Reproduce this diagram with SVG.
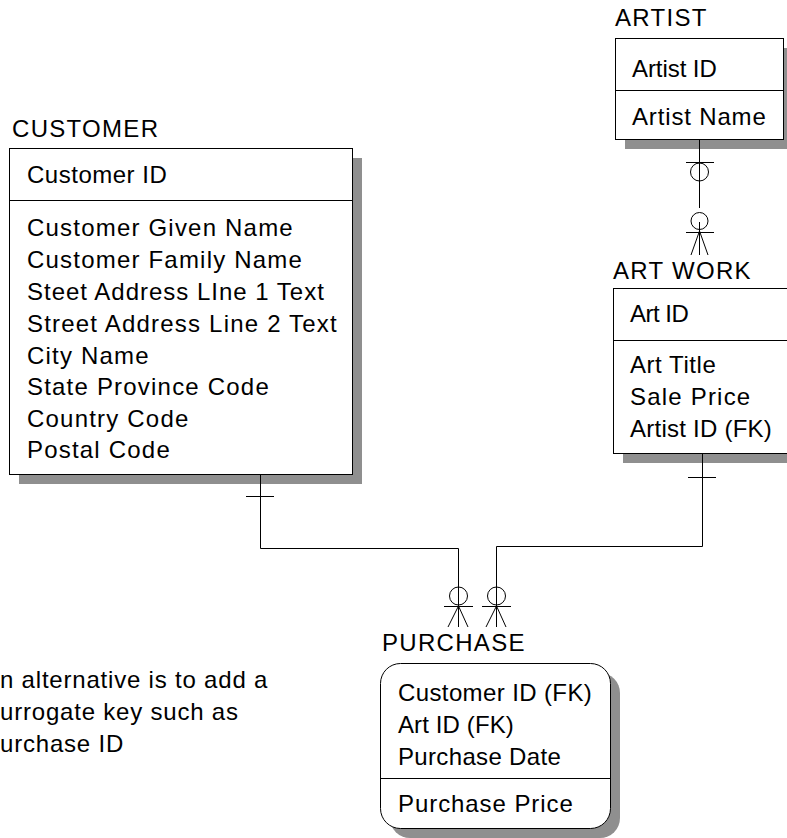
<svg xmlns="http://www.w3.org/2000/svg" width="787" height="838" viewBox="0 0 787 838">
<style>
text{font-family:"Liberation Sans",Arial,sans-serif;font-size:24px;letter-spacing:1.2px;fill:#000}
.title{letter-spacing:1.3px}
.note{letter-spacing:0.8px}
.box{fill:#fff;stroke:#000;stroke-width:1}
.shadow{fill:#8f8f8f}
.div{stroke:#000;stroke-width:1}
.conn{fill:none;stroke:#000;stroke-width:1}
</style>
<rect width="787" height="838" fill="#fff"/>
<g id="artist">
<text class="title" x="615" y="26">ARTIST</text>
<rect class="shadow" x="625" y="48" width="168" height="101"/>
<rect class="box" x="615.5" y="38.5" width="168" height="101"/>
<line class="div" x1="615" y1="90.5" x2="784" y2="90.5"/>
<text x="632" y="77" textLength="86" lengthAdjust="spacing">Artist ID</text>
<text x="632" y="125" textLength="135" lengthAdjust="spacing">Artist Name</text>
</g>
<g id="customer">
<text class="title" x="12" y="137">CUSTOMER</text>
<rect class="shadow" x="19" y="158" width="343" height="326"/>
<rect class="box" x="9.5" y="148.5" width="343" height="326"/>
<line class="div" x1="9" y1="200.5" x2="353" y2="200.5"/>
<text x="27" y="183" textLength="141" lengthAdjust="spacing">Customer ID</text>
<text x="27" y="236">Customer Given Name</text>
<text x="27" y="268">Customer Family Name</text>
<text x="27" y="300" textLength="298" lengthAdjust="spacing">Steet Address LIne 1 Text</text>
<text x="27" y="332">Street Address Line 2 Text</text>
<text x="27" y="364">City Name</text>
<text x="27" y="395">State Province Code</text>
<text x="27" y="427">Country Code</text>
<text x="27" y="458">Postal Code</text>
</g>
<g id="artwork">
<text class="title" x="613" y="279">ART WORK</text>
<rect class="shadow" x="623" y="298" width="190" height="165"/>
<rect class="box" x="613.5" y="288.5" width="190" height="165"/>
<line class="div" x1="613" y1="340.5" x2="800" y2="340.5"/>
<text x="630" y="322" textLength="60" lengthAdjust="spacing">Art ID</text>
<text x="630" y="373" textLength="87" lengthAdjust="spacing">Art Title</text>
<text x="630" y="405">Sale Price</text>
<text x="630" y="437" textLength="143" lengthAdjust="spacing">Artist ID (FK)</text>
</g>
<g id="purchase">
<text class="title" x="382" y="651">PURCHASE</text>
<rect class="shadow" x="390" y="673" width="230" height="165" rx="20"/>
<rect class="box" x="380.5" y="663.5" width="230" height="165" rx="20"/>
<line class="div" x1="380" y1="778.5" x2="611" y2="778.5"/>
<text x="398" y="701" textLength="195" lengthAdjust="spacing">Customer ID (FK)</text>
<text x="398" y="733" textLength="117" lengthAdjust="spacing">Art ID (FK)</text>
<text x="398" y="765" textLength="164" lengthAdjust="spacing">Purchase Date</text>
<text x="398" y="812" textLength="176" lengthAdjust="spacing">Purchase Price</text>
</g>
<g id="note">
<text class="note" x="0" y="688">n alternative is to add a</text>
<text class="note" x="0" y="720">urrogate key such as</text>
<text class="note" x="0" y="752">urchase ID</text>
</g>
<g id="connectors">
<path class="conn" d="M699.5 139 V208 M686 162.5 H714 M699.5 222 V255 M686 232.5 H714 M699.5 231 L691 255 M699.5 231 L708 255"/>
<circle class="conn" cx="699.5" cy="172" r="9"/>
<circle class="conn" cx="699.5" cy="221" r="8.5"/>
<path class="conn" d="M260.5 474 V548.5 H458.5 V627 M246 496.5 H274 M444 606.5 H473 M458.5 606 L448 627 M458.5 606 L468 627"/>
<circle class="conn" cx="458.5" cy="596" r="9"/>
<path class="conn" d="M702.5 453 V546.5 H496.5 V627 M688 477.5 H716 M482 606.5 H511 M496.5 606 L486 627 M496.5 606 L506 627"/>
<circle class="conn" cx="496.5" cy="596" r="9"/>
</g>
</svg>
